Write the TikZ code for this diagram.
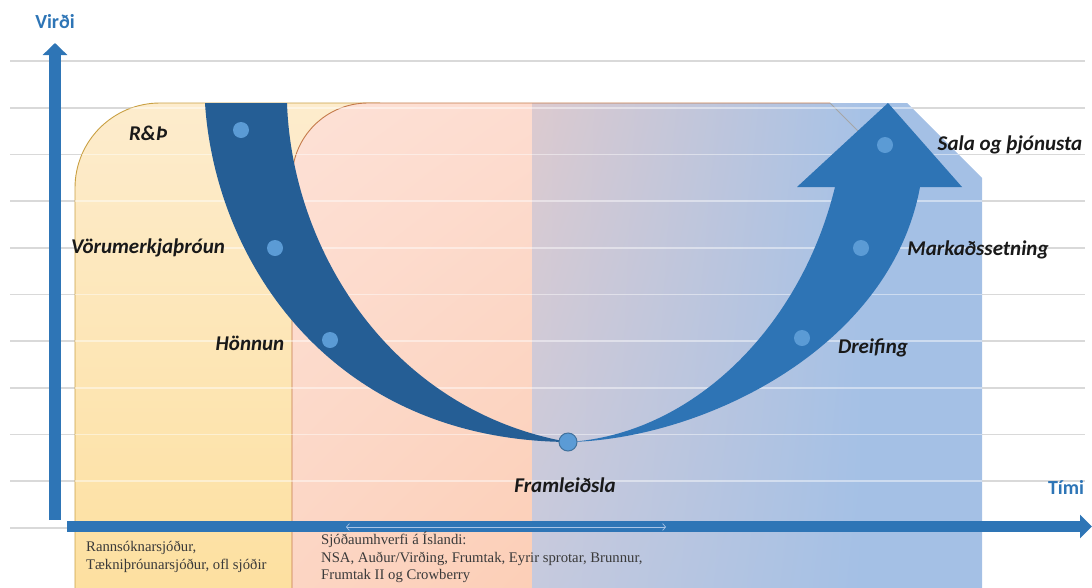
\documentclass[tikz,border=0pt]{standalone}
\usepackage{fontspec}
\setmainfont{Liberation Serif}
\newfontfamily\calfont{Carlito}
\usetikzlibrary{arrows.meta,shadings}
\definecolor{axisblue}{HTML}{2E75B6}
\definecolor{darkband}{HTML}{255E95}
\definecolor{lightband}{HTML}{2E74B5}
\definecolor{dotblue}{HTML}{5B9BD5}
\definecolor{dotedge}{HTML}{41719C}
\definecolor{gridgray}{HTML}{D9D9D9}
\definecolor{yelTop}{HTML}{FDECCD}
\definecolor{yelBot}{HTML}{FDE0A0}
\definecolor{yelEdge}{HTML}{C9A043}
\definecolor{pinkUL}{HTML}{FDE1D6}
\definecolor{pinkUR}{HTML}{FCD6C8}
\definecolor{pinkLL}{HTML}{FCD5C3}
\definecolor{pinkLR}{HTML}{FCC6A6}
\definecolor{pinkEdge}{HTML}{C47A4A}
\definecolor{blueUL}{HTML}{DCCACF}
\definecolor{blueLL}{HTML}{C6CADE}
\definecolor{blueUR}{HTML}{A7C2E6}
\definecolor{blueLR}{HTML}{A4C0E5}
\definecolor{textgray}{HTML}{3A3A3A}
\definecolor{thinarrowc}{HTML}{A9C4E6}
\tikzset{
  gridline/.style={gridgray, line width=1.3pt},
  gridover/.style={white, opacity=0.45, line width=1.3pt},
  stagedot/.style={circle, fill=dotblue, minimum size=16pt, inner sep=0pt},
  stagelabel/.style={font=\calfont\bfseries\itshape\fontsize{21}{25}\selectfont, text=black!90, inner sep=0pt},
  axislabel/.style={font=\calfont\bfseries\fontsize{20}{24}\selectfont, text=axisblue, inner sep=0pt},
  fundtext/.style={font=\fontsize{14.7}{17.5}\selectfont, text=textgray, align=left, inner sep=0pt, anchor=north west},
  axisarrow/.style={axisblue, line width=12pt, -{Triangle[width=24pt,length=12pt]}},
  thinarrow/.style={thinarrowc, line width=0.7pt, {Straight Barb[length=3pt,width=7pt]}-{Straight Barb[length=3pt,width=7pt]}}
}
\begin{document}
\begin{tikzpicture}[x=1pt,y=-1pt]
\useasboundingbox (0,0) rectangle (1092,587);
% grid lines
\foreach \gy in {61,108,154.5,201,248,294.5,341,388,434.5,481,528}
  \draw[gridline] (10,\gy) -- (1085,\gy);
% yellow box
\shade[top color=yelTop, bottom color=yelBot]
  (75,590) -- (75,188) .. controls (75,141) and (113,103) .. (160,103) -- (420,103) -- (420,590) -- cycle;
\draw[yelEdge, line width=0.9pt]
  (75,590) -- (75,188) .. controls (75,141) and (113,103) .. (160,103) -- (380,103);
% pink box
\shade[upper left=pinkUL, upper right=pinkUR, lower left=pinkLL, lower right=pinkLR]
  (292,590) -- (292,179) .. controls (292,137) and (326,103) .. (368,103) -- (830,103) -- (858,131) -- (858,590) -- cycle;
% blue box (gradient part and flat part)
\shade[upper left=blueUL, upper right=blueUR, lower left=blueLL, lower right=blueLR]
  (532,103) rectangle (861,590);
\fill[blueLR]
  (860,103) -- (907,103) -- (982,178) -- (982,590) -- (860,590) -- cycle;
% pink outline on top
\draw[pinkEdge, line width=0.9pt]
  (292,590) -- (292,179) .. controls (292,137) and (326,103) .. (368,103) -- (830,103);
\draw[gray!70, line width=0.8pt] (830,103) -- (858,131);
% faint grid lines over the boxes
\begin{scope}
  \clip (75,590) -- (75,188) .. controls (75,141) and (113,103) .. (160,103) -- (420,103) -- (420,590) -- cycle
        (292,590) -- (292,179) .. controls (292,137) and (326,103) .. (368,103) -- (830,103) -- (858,131) -- (858,590) -- cycle
        (532,103) -- (907,103) -- (982,178) -- (982,590) -- (532,590) -- cycle;
  \foreach \gy in {108,154.5,201,248,294.5,341,388,434.5,481,528}
    \draw[gridover] (10,\gy) -- (1085,\gy);
\end{scope}
% left (descending) band
\fill[darkband]
  (205,103) .. controls (215,260) and (330,440) .. (568,442)
  .. controls (390,410) and (292,250) .. (287,103) -- cycle;
% right (ascending) band with arrow head
\fill[lightband]
  (568,442) .. controls (700,440) and (890,350) .. (920,187)
  -- (962,187) -- (888,103) -- (797,187) -- (835,187)
  .. controls (800,330) and (690,435) .. (568,442) -- cycle;
% stage dots
\node[stagedot] (dRD) at (241,130) {};
\node[stagedot] (dVor) at (275,248) {};
\node[stagedot] (dHon) at (330,340) {};
\node[stagedot, minimum size=18pt, draw=dotedge, line width=1pt] (dFram) at (568,442) {};
\node[stagedot] (dDrei) at (802,338) {};
\node[stagedot] (dMark) at (861,248) {};
\node[stagedot] (dSala) at (885,145) {};
% stage labels
\node[stagelabel] (lRD) at (148,133) {R\&Þ};
\node[stagelabel] (lVor) at (148,248) {Vörumerkjaþróun};
\node[stagelabel] (lHon) at (250,343) {Hönnun};
\node[stagelabel] (lFram) at (565,485) {Framleiðsla};
\node[stagelabel] (lDrei) at (873,348) {Dreifing};
\node[stagelabel] (lMark) at (978,250) {Markaðssetning};
\node[stagelabel] (lSala) at (1010,145) {Sala og þjónusta};
% axes
\coordinate (yBase) at (55,520);
\coordinate (yTip) at (55,43);
\coordinate (xBase) at (67,526.5);
\coordinate (xTip) at (1092,526.5);
\draw[axisarrow] (yBase) -- (yTip);
\draw[axisarrow, line width=11pt, -{Triangle[width=23pt,length=12pt]}] (xBase) -- (xTip);
\coordinate (tL) at (346,527);
\coordinate (tR) at (666,527);
\draw[thinarrow] (tL) -- (tR);
\node[axislabel] (lVirdi) at (55,22) {Virði};
\node[axislabel] (lTimi) at (1066,487) {Tími};
% fund texts
\node[fundtext] (fund1) at (86,541) {Rannsóknarsjóður,\\Tækniþróunarsjóður, ofl sjóðir};
\node[fundtext] (fund2) at (321,532) {Sjóðaumhverfi á Íslandi:\\NSA, Auður/Virðing, Frumtak, Eyrir sprotar, Brunnur,\\Frumtak II og Crowberry};
\end{tikzpicture}
\end{document}
